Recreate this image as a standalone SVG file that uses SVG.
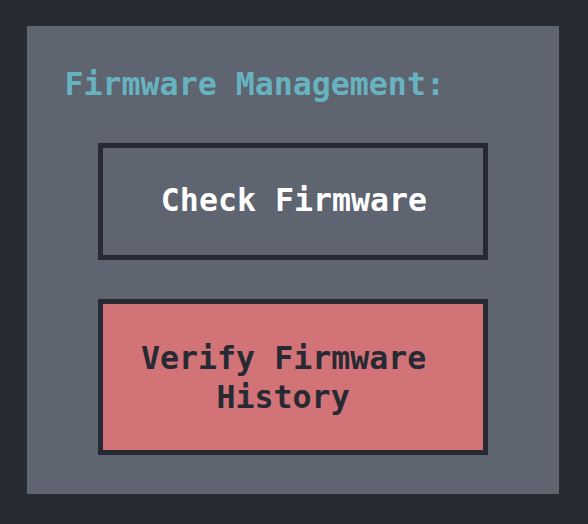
<svg xmlns="http://www.w3.org/2000/svg" width="588" height="524" viewBox="0 0 588 524">
  <style>
    .lbl { font-family: "DejaVu Sans Mono", "Liberation Mono", monospace; font-weight: bold; font-size: 31.6px; }
    .box { stroke: #282a33; stroke-width: 5; }
  </style>
  <rect x="0" y="0" width="588" height="524" fill="#292b33"/>
  <g id="panel">
    <rect x="27" y="26" width="532" height="468" fill="#5e6470"/>
    <text class="lbl" x="64.5" y="95" fill="#68b3c0">Firmware Management:</text>
  </g>
  <g id="connectors"></g>
  <g id="check-firmware">
    <rect class="box" x="100.5" y="145.5" width="385" height="112" fill="#5e6470"/>
    <text class="lbl" x="294" y="211" text-anchor="middle" fill="#ffffff">Check Firmware</text>
  </g>
  <g id="verify-firmware-history">
    <rect class="box" x="100.5" y="301.5" width="385" height="151" fill="#d17377"/>
    <text class="lbl" fill="#282a33"><tspan x="141" y="369">Verify Firmware</tspan><tspan x="216.5" y="408">History</tspan></text>
  </g>
</svg>
